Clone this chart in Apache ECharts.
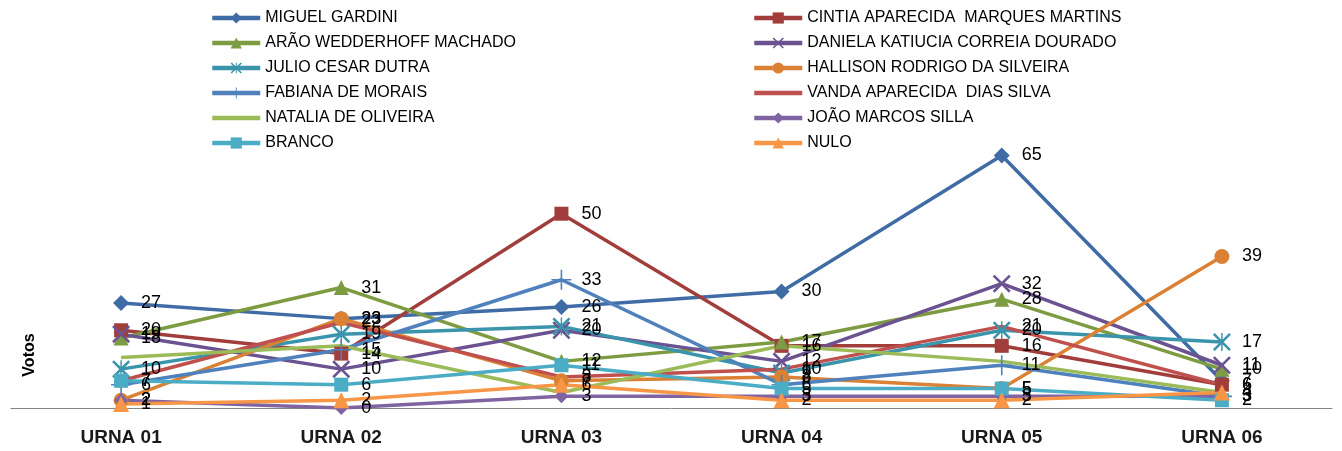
<!DOCTYPE html>
<html>
<head>
<meta charset="utf-8">
<script src="https://cdn.jsdelivr.net/npm/echarts@6/dist/echarts.min.js"></script>
<style>html,body{margin:0;padding:0;background:#fff;}#c{width:1342px;height:451px;}</style>
</head>
<body>
<div id="c"></div>
<script>
const categories = ['URNA 01', 'URNA 02', 'URNA 03', 'URNA 04', 'URNA 05', 'URNA 06'];
const miguel   = [27, 23, 26, 30, 65, 7];
const cintia   = [20, 14, 50, 16, 16, 6];
const arao     = [18, 31, 12, 17, 28, 10];
const daniela  = [19, 10, 20, 12, 32, 11];
const julio    = [10, 19, 21, 9, 20, 17];
const hallison = [2, 23, 7, 8, 5, 39];
const fabiana  = [6, 15, 33, 6, 11, 3];
const vanda    = [7, 22, 8, 10, 21, 6];
const natalia  = [13, 16, 4, 16, 12, 4];
const joao     = [2, 0, 3, 3, 3, 3];
const branco   = [7, 6, 11, 5, 5, 2];
const nulo     = [1, 2, 6, 2, 2, 4];

const FONT = 'Liberation Sans, Arial, sans-serif';
const X_PATH = 'path://M1,0L5,4L9,0L10,1L6,5L10,9L9,10L5,6L1,10L0,9L4,5L0,1Z';
const STAR_PATH = 'path://M1,0L5,4L9,0L10,1L6,5L10,9L9,10L5,6L1,10L0,9L4,5L0,1Z M4.6,0H5.4V10H4.6Z';
const PLUS_PATH = 'path://M4.6,0H5.4V4.6H10V5.4H5.4V10H4.6V5.4H0V4.6H4.6Z';
const LINE_ICON = 'path://M0,0H48V4.5H0Z';

function mk(name, data, color, symbol, size, showLabel) {
  return {
    name: name, type: 'line', data: data,
    symbol: symbol, symbolSize: size,
    lineStyle: { color: color, width: 3.5 },
    itemStyle: { color: color },
    label: {
      show: showLabel, position: 'right', distance: Math.max(20 - size / 2, 2),
      color: '#000', fontSize: 18, fontFamily: FONT
    },
    emphasis: { disabled: true },
    animation: false
  };
}

const series = [
  mk('MIGUEL GARDINI', miguel, '#3F6CA5', 'diamond', 16, true),
  mk('CINTIA APARECIDA  MARQUES MARTINS', cintia, '#A13E3B', 'rect', 14, true),
  mk('ARÃO WEDDERHOFF MACHADO', arao, '#7D9B41', 'triangle', 15, true),
  mk('DANIELA KATIUCIA CORREIA DOURADO', daniela, '#6B5290', X_PATH, 18, true),
  mk('JULIO CESAR DUTRA', julio, '#3A95AC', STAR_PATH, 18, true),
  mk('HALLISON RODRIGO DA SILVEIRA', hallison, '#DB8136', 'circle', 15, true),
  mk('FABIANA DE MORAIS', fabiana, '#4F81BD', PLUS_PATH, 20, true),
  mk('VANDA APARECIDA  DIAS SILVA', vanda, '#C0504D', 'circle', 1, true),
  mk('NATALIA DE OLIVEIRA', natalia, '#9BBB59', 'none', 1, false),
  mk('JOÃO MARCOS SILLA', joao, '#8064A2', 'diamond', 14, true),
  mk('BRANCO', branco, '#4BACC6', 'rect', 14, true),
  mk('NULO', nulo, '#F79646', 'triangle', 16, true)
];

const legendCommon = {
  orient: 'vertical', top: 5, itemWidth: 48, itemHeight: 14, itemGap: 9,
  selectedMode: false,
  lineStyle: { width: 4.5 },
  textStyle: { fontSize: 16, fontFamily: FONT, color: '#000', lineHeight: 14 }
};

const chart = echarts.init(document.getElementById('c'));
chart.setOption({
  animation: false,
  backgroundColor: '#fff',
  grid: { left: 11, right: 10, top: 136, bottom: 43, containLabel: false },
  legend: [
    Object.assign({}, legendCommon, { left: 205, data: [
      'MIGUEL GARDINI', 'ARÃO WEDDERHOFF MACHADO', 'JULIO CESAR DUTRA', 'FABIANA DE MORAIS',
      { name: 'NATALIA DE OLIVEIRA', icon: LINE_ICON }, 'BRANCO'] }),
    Object.assign({}, legendCommon, { left: 747, data: [
      'CINTIA APARECIDA  MARQUES MARTINS', 'DANIELA KATIUCIA CORREIA DOURADO', 'HALLISON RODRIGO DA SILVEIRA',
      { name: 'VANDA APARECIDA  DIAS SILVA', icon: LINE_ICON }, 'JOÃO MARCOS SILLA', 'NULO'] })
  ],
  xAxis: {
    type: 'category', data: categories, boundaryGap: true,
    axisLine: { lineStyle: { color: '#868686', width: 1 } },
    axisTick: { show: false },
    axisLabel: { color: '#1a1a1a', fontSize: 19, fontWeight: 'bold', fontFamily: FONT, margin: 20 },
    splitLine: { show: false }
  },
  yAxis: {
    type: 'value', min: 0, max: 70, interval: 10,
    axisLine: { show: false }, axisTick: { show: false }, axisLabel: { show: false },
    splitLine: { show: false }
  },
  graphic: [{
    type: 'text', x: 30, y: 355, rotation: Math.PI / 2,
    style: { text: 'Votos', fontSize: 16, fontWeight: 'bold', fontFamily: FONT, fill: '#000',
             align: 'center', verticalAlign: 'middle' }
  }],
  series: series
});
</script>
</body>
</html>
